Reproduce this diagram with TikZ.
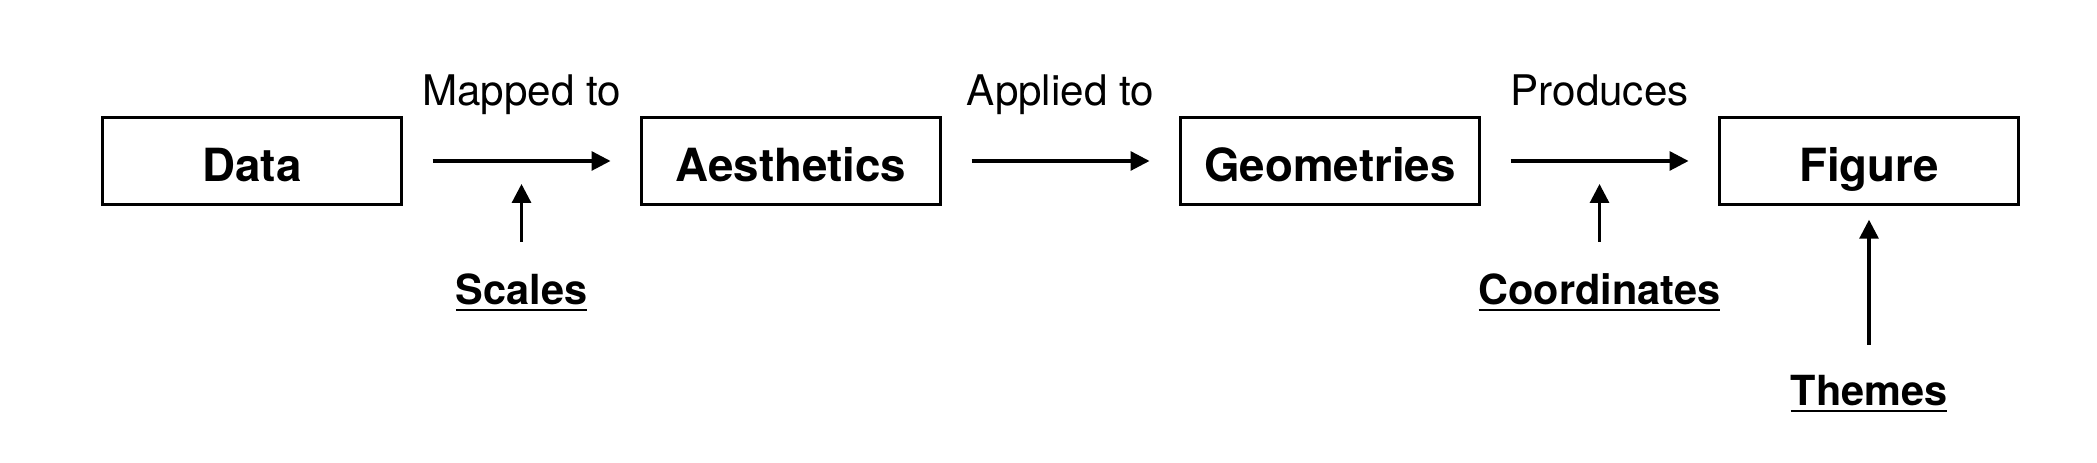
\documentclass[tikz,border=0pt]{standalone}
\usepackage{fontspec}
\setmainfont{TeX Gyre Heros}
\usetikzlibrary{arrows.meta,positioning}

\begin{document}
\begin{tikzpicture}[
  node distance=8mm and 24mm,
  box/.style={draw,line width=0.95pt,outer sep=0pt,minimum width=29.9mm,minimum height=8.75mm,text height=4.1mm,text depth=0mm,font=\fontsize{13}{15}\selectfont\bfseries},
  verb/.style={font=\fontsize{12}{14}\selectfont,anchor=base,yshift=5.5mm},
  tag/.style={inner sep=0pt,font=\fontsize{11.8}{14}\selectfont\bfseries},
  arrow/.style={-{Triangle[length=1.9mm,width=1.9mm]},line width=0.9pt}
]
\useasboundingbox (0,0) rectangle (20.97,4.63);
\node[box] (data) at (2.52,3.02) {Data};
\node[box,right=of data] (aes) {Aesthetics};
\node[box,right=of aes] (geom) {Geometries};
\node[box,right=of geom] (fig) {Figure};
\draw[arrow,shorten <=3.1mm,shorten >=3.1mm] (data) -- (aes) coordinate[midway] (m1) node[verb,midway] (mapped) {Mapped to};
\draw[arrow,shorten <=3.1mm,shorten >=3.1mm] (aes) -- (geom) coordinate[midway] (m2) node[verb,midway] (applied) {Applied to};
\draw[arrow,shorten <=3.1mm,shorten >=3.1mm] (geom) -- (fig) coordinate[midway] (m3) node[verb,midway] (produces) {Produces};
\node[tag,below=11.2mm of m1] (scales) {\underline{Scales}};
\node[tag,below=11.2mm of m3] (coords) {\underline{Coordinates}};
\node[tag,below=17mm of fig] (themes) {\underline{Themes}};
\draw[arrow,shorten <=3.1mm,shorten >=2.3mm] (scales) -- (m1);
\draw[arrow,shorten <=3.1mm,shorten >=2.3mm] (coords) -- (m3);
\draw[arrow,shorten <=3.0mm,shorten >=1.5mm] (themes) -- (fig);
\end{tikzpicture}
\end{document}
